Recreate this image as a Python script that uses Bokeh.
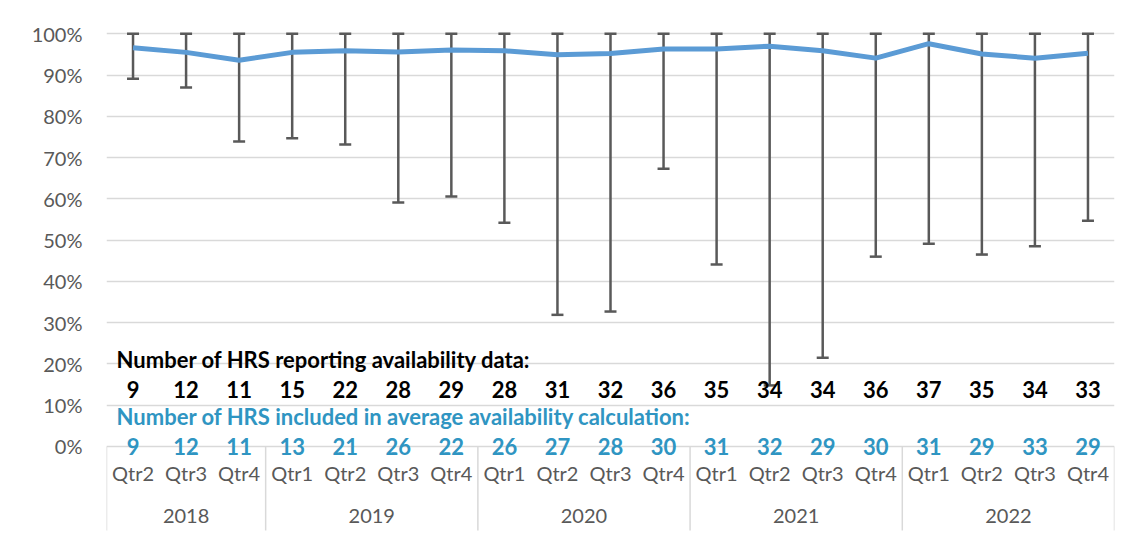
from bokeh.plotting import figure
from bokeh.models import FactorRange, Range1d, FixedTicker, PrintfTickFormatter, ColumnDataSource
from bokeh.core.properties import value
from bokeh.embed import file_html
from bokeh.resources import INLINE

# ---- data ----
years = ["2018"] * 3 + ["2019"] * 4 + ["2020"] * 4 + ["2021"] * 4 + ["2022"] * 4
quarters = ["Qtr2", "Qtr3", "Qtr4"] + ["Qtr1", "Qtr2", "Qtr3", "Qtr4"] * 4
year_groups = ["2018", "2019", "2020", "2021", "2022"]
avg_availability = [96.6, 95.5, 93.6, 95.5, 95.9, 95.6, 96.1, 95.9, 94.9, 95.2,
                    96.3, 96.3, 97.0, 95.9, 94.1, 97.6, 95.1, 94.1, 95.3]
min_availability = [89.1, 87.0, 73.9, 74.7, 73.2, 59.1, 60.6, 54.2, 31.9, 32.7,
                    67.3, 44.1, 14.8, 21.5, 46.0, 49.1, 46.5, 48.5, 54.7]
max_availability = [100] * 19
n_reporting = [9, 12, 11, 15, 22, 28, 29, 28, 31, 32, 36, 35, 34, 34, 36, 37, 35, 34, 33]
n_included = [9, 12, 11, 13, 21, 26, 22, 26, 27, 28, 30, 31, 32, 29, 30, 31, 29, 33, 29]
y_ticks = list(range(0, 101, 10))
title_reporting = "Number of HRS reporting availability data:"
title_included = "Number of HRS included in average availability calculation:"

factors = list(zip(years, quarters))

GRID = "#d9d9d9"
AXIS_TXT = "#595959"
BLUE = "#2F95C2"
FONT = "Lato"
BOLD_SIZE = "22px"

x_range = FactorRange(*factors, factor_padding=0, group_padding=0,
                      subgroup_padding=0, range_padding=0)
p = figure(x_range=x_range, y_range=Range1d(-20.6, 106.13),
           width=1120, height=531, output_backend="svg", toolbar_location=None,
           x_axis_location=None, min_border_left=106, min_border_right=6,
           min_border_top=8, min_border_bottom=0)
p.outline_line_color = None
p.background_fill_color = "white"

yax = p.yaxis[0]
yax.ticker = FixedTicker(ticks=y_ticks)
yax.formatter = PrintfTickFormatter(format="%d%%")
yax.axis_line_color = None
yax.major_tick_line_color = None
yax.minor_tick_line_color = None
yax.major_tick_out = 0
yax.major_label_standoff = 24
yax.major_label_text_font = FONT
yax.major_label_text_font_size = "20px"
yax.major_label_text_color = AXIS_TXT
p.ygrid.grid_line_color = GRID
p.ygrid.grid_line_width = 1.5
p.xgrid.grid_line_color = None

# group separators below the axis
sep_x = [(year_groups[0], "Qtr2", -0.5), ("2019", "Qtr1", -0.5), ("2020", "Qtr1", -0.5),
         ("2021", "Qtr1", -0.5), ("2022", "Qtr1", -0.5), ("2022", "Qtr4", 0.5)]
p.segment(x0=sep_x, y0=[0] * 6, x1=sep_x, y1=[-20.35] * 6, line_color=GRID, line_width=1.5)

# error bars
src = ColumnDataSource(dict(x=factors, mean=avg_availability,
                            lo=min_availability, hi=max_availability))
p.segment(x0="x", y0="lo", x1="x", y1="hi", source=src, line_color="#595959", line_width=2.5)
p.scatter(x="x", y="lo", source=src, marker="dash", size=12, line_color="#595959", line_width=2.5)
p.scatter(x="x", y="hi", source=src, marker="dash", size=12, line_color="#595959", line_width=2.5)

# average line
p.line(x="x", y="mean", source=src, line_color="#5B9BD5", line_width=5, line_join="round")

# texts
p.text(x=[("2018", "Qtr2", -0.31)], y=[21.14], text=[title_reporting],
       text_font=value(FONT), text_font_style="bold", text_font_size=BOLD_SIZE,
       text_color="black", text_align="left", text_baseline="alphabetic")
p.text(x=factors, y=[13.89] * 19, text=[str(v) for v in n_reporting],
       text_font=value(FONT), text_font_style="bold", text_font_size=BOLD_SIZE,
       text_color="black", text_align="center", text_baseline="alphabetic")
p.text(x=[("2018", "Qtr2", -0.31)], y=[7.27], text=[title_included],
       text_font=value(FONT), text_font_style="bold", text_font_size=BOLD_SIZE,
       text_color=BLUE, text_align="left", text_baseline="alphabetic")
p.text(x=factors, y=[0.0] * 19, text=[str(v) for v in n_included],
       text_font=value(FONT), text_font_style="bold", text_font_size=BOLD_SIZE,
       text_color=BLUE, text_align="center", text_baseline="alphabetic")
p.text(x=factors, y=[-6.47] * 19, text=quarters,
       text_font=value(FONT), text_font_size="20px",
       text_color=AXIS_TXT, text_align="center", text_baseline="alphabetic")
p.text(x=year_groups, y=[-16.79] * 5, text=year_groups,
       text_font=value(FONT), text_font_size="20px",
       text_color=AXIS_TXT, text_align="center", text_baseline="alphabetic")

open("out.html", "w").write(file_html(p, INLINE))
